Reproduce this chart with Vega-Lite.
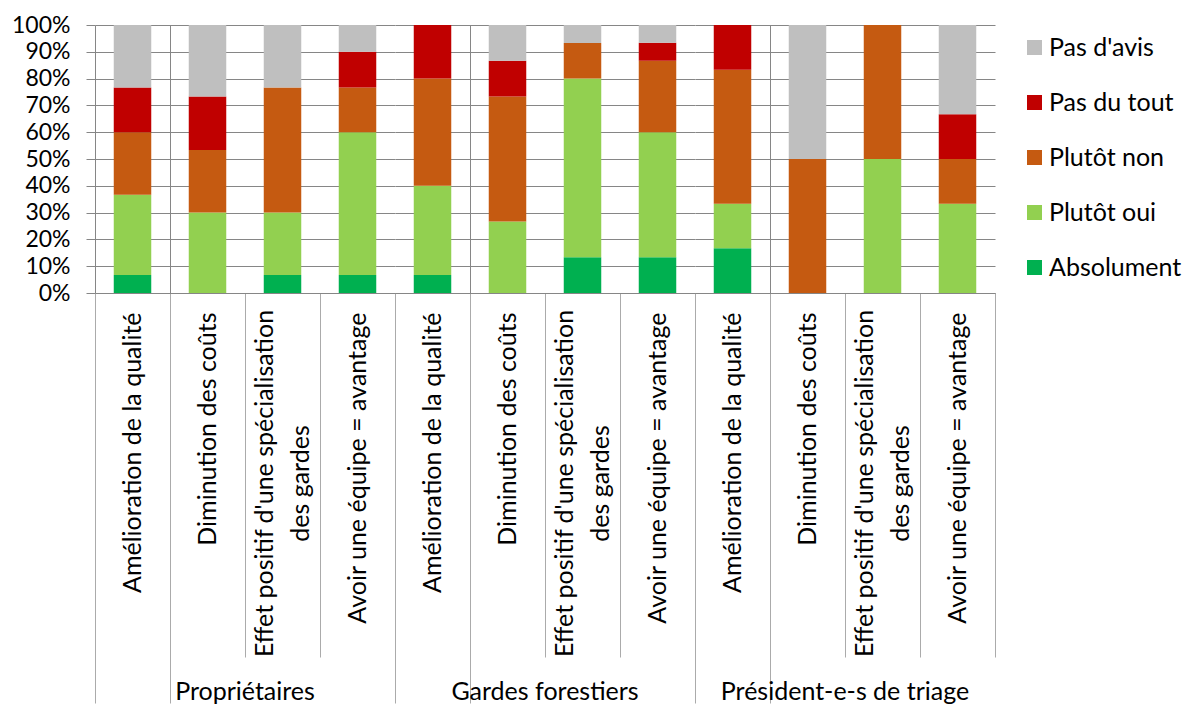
{
  "$schema": "https://vega.github.io/schema/vega-lite/v6.json",
  "background": "white",
  "padding": {"left": 11, "top": 14, "right": 0, "bottom": 0},
  "data": {"values": [
    {"group": "Propriétaires", "item": "Amélioration de la qualité", "resp": "Absolument", "ord": 1, "pct": 6.67},
    {"group": "Propriétaires", "item": "Amélioration de la qualité", "resp": "Plutôt oui", "ord": 2, "pct": 30},
    {"group": "Propriétaires", "item": "Amélioration de la qualité", "resp": "Plutôt non", "ord": 3, "pct": 23.33},
    {"group": "Propriétaires", "item": "Amélioration de la qualité", "resp": "Pas du tout", "ord": 4, "pct": 16.67},
    {"group": "Propriétaires", "item": "Amélioration de la qualité", "resp": "Pas d'avis", "ord": 5, "pct": 23.33},
    {"group": "Propriétaires", "item": "Diminution des coûts", "resp": "Plutôt oui", "ord": 2, "pct": 30},
    {"group": "Propriétaires", "item": "Diminution des coûts", "resp": "Plutôt non", "ord": 3, "pct": 23.33},
    {"group": "Propriétaires", "item": "Diminution des coûts", "resp": "Pas du tout", "ord": 4, "pct": 20},
    {"group": "Propriétaires", "item": "Diminution des coûts", "resp": "Pas d'avis", "ord": 5, "pct": 26.67},
    {"group": "Propriétaires", "item": "Effet positif d'une spécialisation des gardes", "resp": "Absolument", "ord": 1, "pct": 6.67},
    {"group": "Propriétaires", "item": "Effet positif d'une spécialisation des gardes", "resp": "Plutôt oui", "ord": 2, "pct": 23.33},
    {"group": "Propriétaires", "item": "Effet positif d'une spécialisation des gardes", "resp": "Plutôt non", "ord": 3, "pct": 46.67},
    {"group": "Propriétaires", "item": "Effet positif d'une spécialisation des gardes", "resp": "Pas d'avis", "ord": 5, "pct": 23.33},
    {"group": "Propriétaires", "item": "Avoir une équipe = avantage", "resp": "Absolument", "ord": 1, "pct": 6.67},
    {"group": "Propriétaires", "item": "Avoir une équipe = avantage", "resp": "Plutôt oui", "ord": 2, "pct": 53.33},
    {"group": "Propriétaires", "item": "Avoir une équipe = avantage", "resp": "Plutôt non", "ord": 3, "pct": 16.67},
    {"group": "Propriétaires", "item": "Avoir une équipe = avantage", "resp": "Pas du tout", "ord": 4, "pct": 13.33},
    {"group": "Propriétaires", "item": "Avoir une équipe = avantage", "resp": "Pas d'avis", "ord": 5, "pct": 10},
    {"group": "Gardes forestiers", "item": "Amélioration de la qualité", "resp": "Absolument", "ord": 1, "pct": 6.67},
    {"group": "Gardes forestiers", "item": "Amélioration de la qualité", "resp": "Plutôt oui", "ord": 2, "pct": 33.33},
    {"group": "Gardes forestiers", "item": "Amélioration de la qualité", "resp": "Plutôt non", "ord": 3, "pct": 40},
    {"group": "Gardes forestiers", "item": "Amélioration de la qualité", "resp": "Pas du tout", "ord": 4, "pct": 20},
    {"group": "Gardes forestiers", "item": "Diminution des coûts", "resp": "Plutôt oui", "ord": 2, "pct": 26.67},
    {"group": "Gardes forestiers", "item": "Diminution des coûts", "resp": "Plutôt non", "ord": 3, "pct": 46.67},
    {"group": "Gardes forestiers", "item": "Diminution des coûts", "resp": "Pas du tout", "ord": 4, "pct": 13.33},
    {"group": "Gardes forestiers", "item": "Diminution des coûts", "resp": "Pas d'avis", "ord": 5, "pct": 13.33},
    {"group": "Gardes forestiers", "item": "Effet positif d'une spécialisation des gardes", "resp": "Absolument", "ord": 1, "pct": 13.33},
    {"group": "Gardes forestiers", "item": "Effet positif d'une spécialisation des gardes", "resp": "Plutôt oui", "ord": 2, "pct": 66.67},
    {"group": "Gardes forestiers", "item": "Effet positif d'une spécialisation des gardes", "resp": "Plutôt non", "ord": 3, "pct": 13.33},
    {"group": "Gardes forestiers", "item": "Effet positif d'une spécialisation des gardes", "resp": "Pas d'avis", "ord": 5, "pct": 6.67},
    {"group": "Gardes forestiers", "item": "Avoir une équipe = avantage", "resp": "Absolument", "ord": 1, "pct": 13.33},
    {"group": "Gardes forestiers", "item": "Avoir une équipe = avantage", "resp": "Plutôt oui", "ord": 2, "pct": 46.67},
    {"group": "Gardes forestiers", "item": "Avoir une équipe = avantage", "resp": "Plutôt non", "ord": 3, "pct": 26.67},
    {"group": "Gardes forestiers", "item": "Avoir une équipe = avantage", "resp": "Pas du tout", "ord": 4, "pct": 6.67},
    {"group": "Gardes forestiers", "item": "Avoir une équipe = avantage", "resp": "Pas d'avis", "ord": 5, "pct": 6.67},
    {"group": "Président-e-s de triage", "item": "Amélioration de la qualité", "resp": "Absolument", "ord": 1, "pct": 16.67},
    {"group": "Président-e-s de triage", "item": "Amélioration de la qualité", "resp": "Plutôt oui", "ord": 2, "pct": 16.67},
    {"group": "Président-e-s de triage", "item": "Amélioration de la qualité", "resp": "Plutôt non", "ord": 3, "pct": 50},
    {"group": "Président-e-s de triage", "item": "Amélioration de la qualité", "resp": "Pas du tout", "ord": 4, "pct": 16.67},
    {"group": "Président-e-s de triage", "item": "Diminution des coûts", "resp": "Plutôt non", "ord": 3, "pct": 50},
    {"group": "Président-e-s de triage", "item": "Diminution des coûts", "resp": "Pas d'avis", "ord": 5, "pct": 50},
    {"group": "Président-e-s de triage", "item": "Effet positif d'une spécialisation des gardes", "resp": "Plutôt oui", "ord": 2, "pct": 50},
    {"group": "Président-e-s de triage", "item": "Effet positif d'une spécialisation des gardes", "resp": "Plutôt non", "ord": 3, "pct": 50},
    {"group": "Président-e-s de triage", "item": "Avoir une équipe = avantage", "resp": "Plutôt oui", "ord": 2, "pct": 33.33},
    {"group": "Président-e-s de triage", "item": "Avoir une équipe = avantage", "resp": "Plutôt non", "ord": 3, "pct": 16.67},
    {"group": "Président-e-s de triage", "item": "Avoir une équipe = avantage", "resp": "Pas du tout", "ord": 4, "pct": 16.67},
    {"group": "Président-e-s de triage", "item": "Avoir une équipe = avantage", "resp": "Pas d'avis", "ord": 5, "pct": 33.33}
  ]},
  "spacing": 0,
  "facet": {
    "column": {
      "field": "group", "type": "nominal",
      "sort": ["Propriétaires", "Gardes forestiers", "Président-e-s de triage"],
      "header": {"title": null, "labelOrient": "bottom", "labelFont": "Lato", "labelFontSize": 25, "labelColor": "black", "labelPadding": -24}
    }
  },
  "spec": {
    "width": 300,
    "height": 268,
    "view": {"stroke": null},
    "mark": {"type": "bar", "width": {"band": 0.5}},
    "encoding": {
      "x": {
        "field": "item", "type": "nominal",
        "sort": ["Amélioration de la qualité", "Diminution des coûts", "Effet positif d'une spécialisation des gardes", "Avoir une équipe = avantage"],
        "scale": {"paddingInner": 0, "paddingOuter": 0},
        "axis": {
          "title": null,
          "domainColor": "#868686",
          "grid": true,
          "gridColor": "#868686",
          "gridOpacity": {"condition": {"test": "datum.value === 'Amélioration de la qualité'", "value": 1}, "value": 0},
          "tickBand": "extent",
          "tickColor": "#ababab",
          "tickSize": {"condition": {"test": "datum.value === 'Amélioration de la qualité' || datum.index === -1 || datum.extra", "value": 410}, "value": 364},
          "labelAngle": -90,
          "labelFont": "Lato",
          "labelFontSize": 25,
          "labelColor": "black",
          "labelLineHeight": 36,
          "labelAlign": {"condition": {"test": "datum.value === \"Effet positif d'une spécialisation des gardes\"", "value": "center"}, "value": "right"},
          "labelOffset": {"condition": {"test": "datum.value === \"Effet positif d'une spécialisation des gardes\"", "value": -18}, "value": 0},
          "labelPadding": {"condition": [
            {"test": "datum.value === 'Amélioration de la qualité'", "value": -391},
            {"test": "datum.value === \"Effet positif d'une spécialisation des gardes\"", "value": -174}
          ], "value": -345},
          "labelExpr": "datum.value === \"Effet positif d'une spécialisation des gardes\" ? [\"Effet positif d'une spécialisation\", \"des gardes\"] : datum.label",
          "labelLimit": 0
        }
      },
      "y": {
        "field": "pct", "type": "quantitative", "stack": "zero",
        "scale": {"domain": [0, 100]},
        "axis": {
          "title": null,
          "values": [0, 10, 20, 30, 40, 50, 60, 70, 80, 90, 100],
          "labelExpr": "datum.value + '%'",
          "domainColor": "#868686",
          "tickColor": "#868686",
          "tickSize": 9,
          "gridColor": "#868686",
          "labelFont": "Lato",
          "labelFontSize": 23,
          "labelColor": "black",
          "labelPadding": 16
        }
      },
      "color": {
        "field": "resp", "type": "nominal",
        "scale": {
          "domain": ["Pas d'avis", "Pas du tout", "Plutôt non", "Plutôt oui", "Absolument"],
          "range": ["#BFBFBF", "#C00000", "#C55A11", "#92D050", "#00B050"]
        },
        "legend": {
          "title": null,
          "symbolType": "square",
          "symbolSize": 225,
          "symbolStrokeWidth": 0,
          "labelFont": "Lato",
          "labelFontSize": 25,
          "labelColor": "black",
          "labelOffset": 2,
          "rowPadding": 29,
          "offset": 16,
          "padding": 10
        }
      },
      "order": {"field": "ord", "type": "quantitative"}
    }
  }
}
